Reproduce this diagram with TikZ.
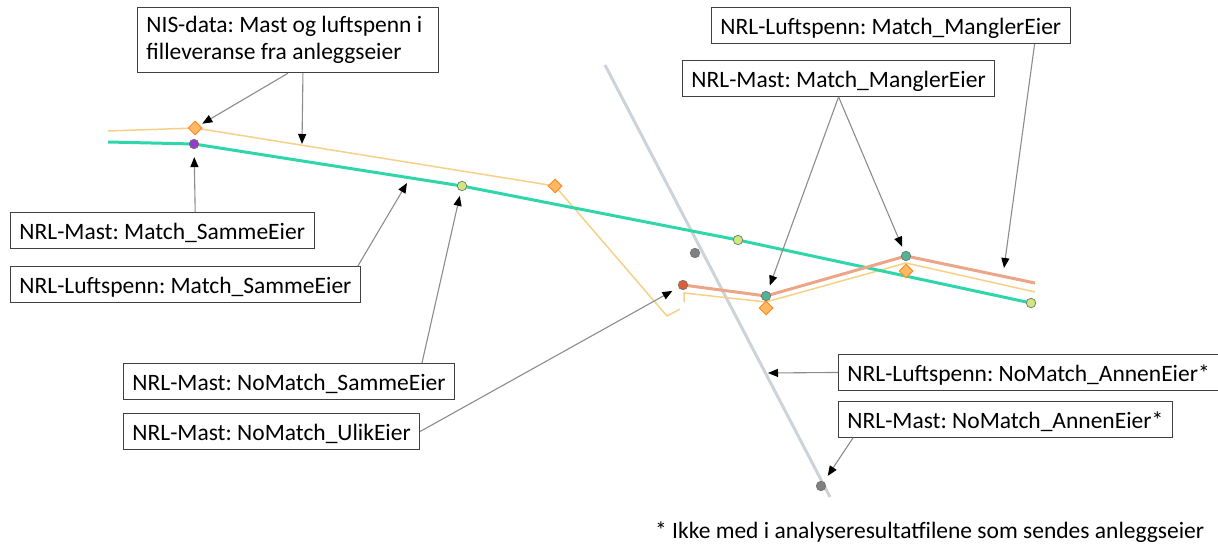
\documentclass[tikz,border=0pt]{standalone}
\usepackage{fontspec}
\setmainfont{Carlito}
\usetikzlibrary{arrows.meta,shapes.geometric}
\definecolor{figTeal}{RGB}{46,214,170}
\definecolor{figYel}{RGB}{245,208,135}
\definecolor{figSal}{RGB}{236,165,135}
\definecolor{figGry}{RGB}{204,211,217}
\definecolor{figOr}{RGB}{255,140,40}
\definecolor{figOrL}{RGB}{255,185,100}
\definecolor{figPur}{RGB}{150,60,200}
\definecolor{figLime}{RGB}{205,232,125}
\definecolor{figMid}{RGB}{80,180,150}
\definecolor{figRed}{RGB}{220,95,55}
\frenchspacing

\tikzset{
  lbl/.style={draw=black!75,line width=0.9pt,fill=white,anchor=north west,
    font=\fontsize{23.5}{27}\selectfont,inner xsep=9pt,inner ysep=7pt,
    text height=20pt,text depth=2pt},
  pointer/.style={draw=black!45,line width=1.1pt,
    -{Triangle[length=10pt,width=8pt,color=black]}},
  dot/.style={circle,inner sep=0pt,minimum size=9.5pt,draw=black!55,line width=0.7pt},
  nisdia/.style={diamond,inner sep=0pt,minimum size=14pt,fill=figOrL,draw=figOr,line width=1pt},
}

\begin{document}
\begin{tikzpicture}[x=1pt,y=-1pt]
\useasboundingbox (0,0) rectangle (1218,548);
% lines of the map
\draw[figGry,line width=3pt] (605,65) -- (830,497);
\draw[figYel,line width=1.5pt] (108,131) -- (195,128) -- (555,186) -- (667,316) -- (680,309);
\draw[figYel,line width=1.5pt] (684,302) -- (684,293) -- (766,302) -- (906,263) -- (1035,292);
\draw[figTeal,line width=3pt] (108,142) -- (194,144) -- (462,186) -- (738,240) -- (1031,303);
\draw[figSal,line width=3pt] (683,285) -- (766,296) -- (906,256) -- (1035,283);
% masts
\node[nisdia] (d1) at (195,128) {};
\node[nisdia] (d2) at (555,186) {};
\node[nisdia] (d3) at (766,308) {};
\node[nisdia] (d4) at (906,271) {};
\node[dot,fill=figPur] (m1) at (194,144) {};
\node[dot,fill=figLime] (g1) at (462,186) {};
\node[dot,fill=figLime] (g2) at (738,240) {};
\node[dot,fill=figLime] (g3) at (1031,303) {};
\node[dot,fill=figRed] (r1) at (683,285) {};
\node[dot,fill=figMid] (t1) at (766,296) {};
\node[dot,fill=figMid] (t2) at (906,256) {};
\node[dot,fill=black!50] (k1) at (695,253) {};
\node[dot,fill=black!50] (k2) at (821,486) {};
\coordinate (ys1) at (302,144);
\coordinate (gs1) at (407,183);
\coordinate (sm1) at (1004,268);
\coordinate (gr1) at (768,373);
% labels
\node[lbl,text width=283pt,align=flush left,text height=,text depth=,inner ysep=9pt] (nis) at (137,7)
  {NIS-data: Mast og luftspenn i\\filleveranse fra anleggseier};
\node[lbl] (mastSE) at (10,212) {NRL-Mast: Match\_SammeEier};
\node[lbl] (spennSE) at (10,266) {NRL-Luftspenn: Match\_SammeEier};
\node[lbl] (mastNSE) at (123,363) {NRL-Mast: NoMatch\_SammeEier};
\node[lbl] (mastNUE) at (123,413) {NRL-Mast: NoMatch\_UlikEier};
\node[lbl] (spennME) at (711,7) {NRL-Luftspenn: Match\_ManglerEier};
\node[lbl] (mastME) at (682,60) {NRL-Mast: Match\_ManglerEier};
\node[lbl] (spennAE) at (838,354) {NRL-Luftspenn: NoMatch\_AnnenEier*};
\node[lbl] (mastAE) at (838,401) {NRL-Mast: NoMatch\_AnnenEier*};
\node[font=\fontsize{23.5}{27}\selectfont,anchor=west,inner sep=0pt] (note) at (655,532)
  {* Ikke med i analyseresultatfilene som sendes anleggseier};
% pointers
\draw[pointer,shorten >=3pt] (nis.south) -- (d1);
\draw[pointer] ([xshift=15pt]nis.south) -- (ys1);
\draw[pointer,shorten >=8pt] ([xshift=33pt]mastSE.north) -- (m1);
\draw[pointer] ([xshift=-3pt]spennSE.north east) -- (gs1);
\draw[pointer,shorten >=5pt] ([xshift=-33pt]mastNSE.north east) -- (g1);
\draw[pointer,shorten >=7pt] (mastNUE.east) -- (r1);
\draw[pointer] ([xshift=-36pt]spennME.south east) -- (sm1);
\draw[pointer,shorten >=6pt] (mastME.south) -- (t1);
\draw[pointer,shorten >=5pt] (mastME.south) -- (t2);
\draw[pointer] (spennAE.west) -- (gr1);
\draw[pointer,shorten >=7pt] ([xshift=15pt]mastAE.south west) -- (k2);
\end{tikzpicture}
\end{document}
